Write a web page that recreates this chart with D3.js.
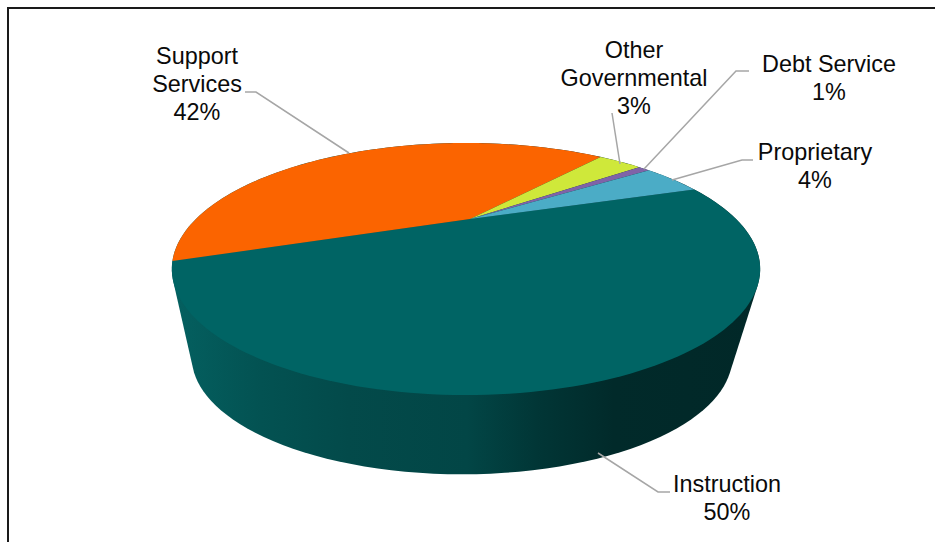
<!DOCTYPE html>
<html><head><meta charset="utf-8">
<script src="https://cdn.jsdelivr.net/npm/d3@7/dist/d3.min.js"></script>
<style>html,body{margin:0;padding:0;background:#fff}svg{display:block}text{font-family:"Liberation Sans",Arial,sans-serif;font-size:23.4px;fill:#0a0a0a}</style>
</head><body><svg id="c" width="935" height="542"></svg>
<script>
const categories = ["Instruction","Support Services","Other Governmental","Debt Service","Proprietary"];
const shares = [49.5,41.8,3.4,0.9,4.4];
const sliceColors = ["#006464","#FB6400","#CFE83A","#7F63A8","#4BACC6"];
const labelLines = [["Instruction","50%"],["Support","Services","42%"],["Other","Governmental","3%"],["Debt Service","1%"],["Proprietary","4%"]];
const labelAnchors = [[727,492],[197,64],[634,58],[829,72],[815,160]];
const leaderPaths = [
  [[598,453],[658,492],[670,492]],
  [[349,153],[256,92],[245,92]],
  [[620,164],[612,113]],
  [[644,169],[736,71],[749,71]],
  [[672,180],[742,160],[753,160]]
];
const sideStops = [[0,"#046060"],[0.15,"#035252"],[0.3,"#034a4a"],[0.5,"#024646"],[0.62,"#013636"],[0.75,"#012a2a"],[1,"#012828"]];

const svg = d3.select("#c");
// perspective projection of a unit disc
const p = 0.397;
function project(a, o){ // a: d3 pie angle (0 = 12 o'clock, clockwise)
  const X = Math.sin(a), Y = -Math.cos(a), w = 1 - p*Y;
  return [o.cx + o.kx*X/w, o.cy + o.ky*Y/w];
}
const top_ = {cx:466, cy:219, kx:270, ky:106.2};
const bot  = {cx:462, cy:311, kx:248, ky:98.5};
const angleScale = d3.scaleLinear().domain([0,1]);
function rim(o,a0,a1,n){
  angleScale.range([a0,a1]);
  return d3.range(n+1).map(i=>project(angleScale(i/n),o));
}
const defs = svg.append("defs");
const grad = defs.append("linearGradient").attr("id","side").attr("gradientUnits","userSpaceOnUse")
  .attr("x1",173).attr("x2",760).attr("y1",0).attr("y2",0);
sideStops.forEach(s=>grad.append("stop").attr("offset",s[0]).attr("stop-color",s[1]));

svg.append("rect").attr("x",8).attr("y",8).attr("width",940).attr("height",560)
  .attr("fill","#fff").attr("stroke","#1a1a1a").attr("stroke-width",2);

const line = d3.line();
const hull = d3.polygonHull(rim(top_,0,2*Math.PI,180).concat(rim(bot,0,2*Math.PI,180)));
svg.append("path").attr("d",line(hull)+"Z").attr("fill","url(#side)");

const pie = d3.pie().sort(null).startAngle(71.8*Math.PI/180).endAngle((71.8+360)*Math.PI/180);
const arcs = pie(shares);
svg.selectAll("path.slice").data(arcs).enter().append("path").attr("class","slice")
  .attr("fill",(d,i)=>sliceColors[i])
  .attr("d",d=>{
    const n = Math.max(4,Math.ceil((d.endAngle-d.startAngle)*40));
    return line([[top_.cx+4,top_.cy]].concat(rim(top_,d.startAngle,d.endAngle,n)))+"Z";
  });

svg.selectAll("path.leader").data(leaderPaths).enter().append("path").attr("class","leader")
  .attr("fill","none").attr("stroke","#a6a6a6").attr("stroke-width",1.5)
  .attr("d",d=>line(d));

labelLines.forEach((lines,i)=>{
  const t = svg.append("text").attr("text-anchor","middle");
  lines.forEach((s,j)=>t.append("tspan").attr("x",labelAnchors[i][0]).attr("y",labelAnchors[i][1]+j*28).text(s));
});
</script></body></html>
